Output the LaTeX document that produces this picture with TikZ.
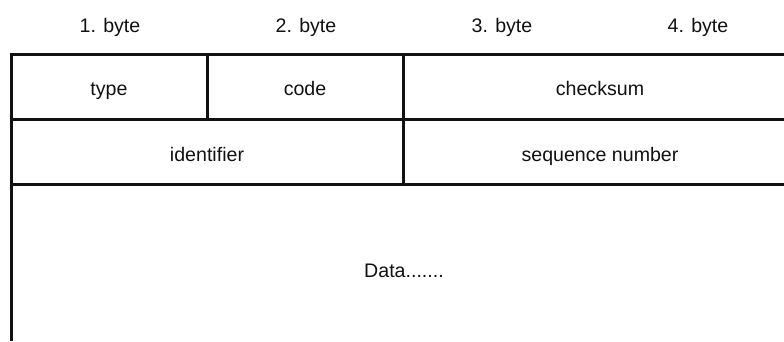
\documentclass[tikz,border=0pt]{standalone}
\usepackage{fontspec}
\setmainfont{Liberation Sans}
\definecolor{headerLine}{HTML}{111111}
\definecolor{headerText}{HTML}{111111}
\tikzset{
	fieldLabel/.style={anchor=base, text=headerText, inner sep=0pt, font=\fontsize{19.6}{23}\selectfont},
}

\begin{document}
\begin{tikzpicture}[x=1pt, y=-1pt, line width=3pt]
	\useasboundingbox (0,0) rectangle (784,341);
	% byte ruler
	\node[fieldLabel] (byteOne)   at (110,32) {1. byte};
	\node[fieldLabel] (byteTwo)   at (306,32) {2. byte};
	\node[fieldLabel] (byteThree) at (502,32) {3. byte};
	\node[fieldLabel] (byteFour)  at (698,32) {4. byte};
	% header grid
	\draw[headerLine] (784,54) -- (11,54) -- (11,341);
	\draw[headerLine] (11,119) -- (784,119);
	\draw[headerLine] (11,184) -- (784,184);
	\draw[headerLine] (207,54) -- (207,119);
	\draw[headerLine] (403,54) -- (403,184);
	% fields
	\node[fieldLabel] (typeField)     at (109,95)  {type};
	\node[fieldLabel] (codeField)     at (305,95)  {code};
	\node[fieldLabel] (checksumField) at (600,95)  {checksum};
	\node[fieldLabel] (identField)    at (207,161) {identifier};
	\node[fieldLabel] (seqField)      at (600,161) {sequence number};
	\node[fieldLabel] (dataField)     at (404,277) {Data.......};
\end{tikzpicture}
\end{document}
